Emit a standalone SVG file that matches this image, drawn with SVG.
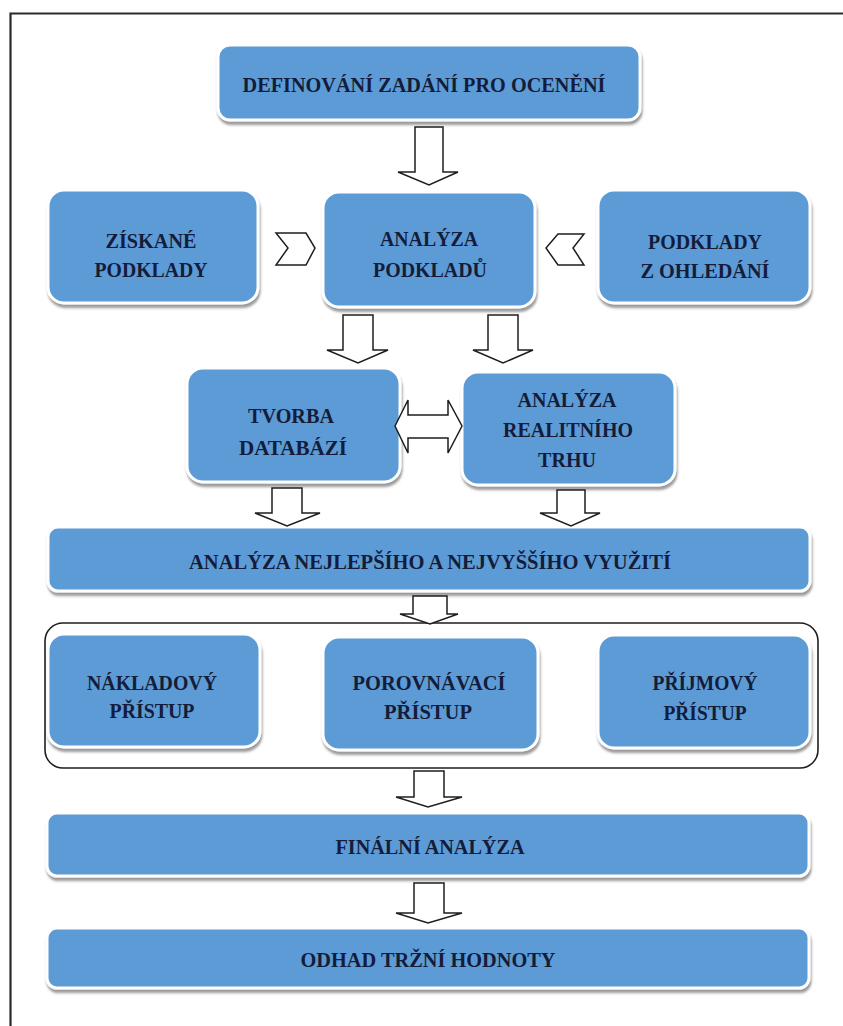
<svg xmlns="http://www.w3.org/2000/svg" width="843" height="1026" viewBox="0 0 843 1026">
<style>
.bg{fill:#ffffff}
.frame{stroke:#2a2a2a;stroke-width:2.2;fill:none}
.box{fill:#5b9bd5;stroke:#ffffff;stroke-width:3;filter:url(#sh)}
.cont{fill:none;stroke:#1e1e1e;stroke-width:1.6}
.arr{fill:#ffffff;stroke:#1e1e1e;stroke-width:1.5;stroke-linejoin:miter}
.t{font-family:"Liberation Serif","Times New Roman",serif;font-weight:bold;font-size:20px;fill:#141c3a;text-anchor:middle}
</style>
<defs>
<filter id="sh" x="-5%" y="-10%" width="112%" height="130%">
<feDropShadow dx="1" dy="3.5" stdDeviation="1.3" flood-color="#4a4a4a" flood-opacity="0.55"/>
</filter>
</defs>
<rect class="bg" x="0" y="0" width="843" height="1026"/>
<path class="frame" d="M10.5 1026 V13.5 H843"/>

<g id="n_definovani">
<rect class="box" x="218" y="45" width="422" height="75" rx="12"/>
<text class="t" x="424" y="92" textLength="363" lengthAdjust="spacingAndGlyphs">DEFINOVÁNÍ ZADÁNÍ PRO OCENĚNÍ</text>
</g>
<g id="n_ziskane">
<rect class="box" x="48" y="190" width="210" height="113" rx="16"/>
<text class="t" x="151" y="248" textLength="91" lengthAdjust="spacingAndGlyphs">ZÍSKANÉ</text>
<text class="t" x="151" y="277" textLength="113" lengthAdjust="spacingAndGlyphs">PODKLADY</text>
</g>
<g id="n_analyza_podkladu">
<rect class="box" x="323" y="192" width="212" height="115" rx="16"/>
<text class="t" x="429" y="246" textLength="98" lengthAdjust="spacingAndGlyphs">ANALÝZA</text>
<text class="t" x="430" y="277" textLength="114" lengthAdjust="spacingAndGlyphs">PODKLADŮ</text>
</g>
<g id="n_ohledani">
<rect class="box" x="598" y="190" width="212" height="113" rx="16"/>
<text class="t" x="705" y="249" textLength="114" lengthAdjust="spacingAndGlyphs">PODKLADY</text>
<text class="t" x="705" y="278" textLength="129" lengthAdjust="spacingAndGlyphs">Z OHLEDÁNÍ</text>
</g>
<g id="n_tvorba">
<rect class="box" x="187" y="368" width="213" height="114" rx="16"/>
<text class="t" x="291" y="423" textLength="86" lengthAdjust="spacingAndGlyphs">TVORBA</text>
<text class="t" x="293" y="455" textLength="108" lengthAdjust="spacingAndGlyphs">DATABÁZÍ</text>
</g>
<g id="n_trh">
<rect class="box" x="462" y="372" width="213" height="113" rx="16"/>
<text class="t" x="567" y="407" textLength="99" lengthAdjust="spacingAndGlyphs">ANALÝZA</text>
<text class="t" x="568" y="437" textLength="130" lengthAdjust="spacingAndGlyphs">REALITNÍHO</text>
<text class="t" x="567" y="467">TRHU</text>
</g>
<g id="n_hbu">
<rect class="box" x="48" y="527" width="762" height="64" rx="10"/>
<text class="t" x="430" y="569" textLength="482" lengthAdjust="spacingAndGlyphs">ANALÝZA NEJLEPŠÍHO A NEJVYŠŠÍHO VYUŽITÍ</text>
</g>
<g id="n_pristupy">
<rect class="cont" x="45" y="623" width="773" height="145" rx="18"/>
</g>
<g id="n_nakladovy">
<rect class="box" x="48" y="634" width="212" height="113" rx="16"/>
<text class="t" x="152" y="690" textLength="130" lengthAdjust="spacingAndGlyphs">NÁKLADOVÝ</text>
<text class="t" x="152" y="718" textLength="85" lengthAdjust="spacingAndGlyphs">PŘÍSTUP</text>
</g>
<g id="n_porovnavaci">
<rect class="box" x="323" y="637" width="215" height="113" rx="16"/>
<text class="t" x="429" y="690" textLength="153" lengthAdjust="spacingAndGlyphs">POROVNÁVACÍ</text>
<text class="t" x="428" y="719" textLength="88" lengthAdjust="spacingAndGlyphs">PŘÍSTUP</text>
</g>
<g id="n_prijmovy">
<rect class="box" x="598" y="635" width="212" height="113" rx="16"/>
<text class="t" x="705" y="690" textLength="105" lengthAdjust="spacingAndGlyphs">PŘÍJMOVÝ</text>
<text class="t" x="705" y="720" textLength="83" lengthAdjust="spacingAndGlyphs">PŘÍSTUP</text>
</g>
<g id="n_finalni">
<rect class="box" x="47" y="813" width="762" height="63" rx="10"/>
<text class="t" x="430" y="854" textLength="189" lengthAdjust="spacingAndGlyphs">FINÁLNÍ ANALÝZA</text>
</g>
<g id="n_odhad">
<rect class="box" x="47" y="928" width="762" height="60" rx="10"/>
<text class="t" x="428" y="967" textLength="255" lengthAdjust="spacingAndGlyphs">ODHAD TRŽNÍ HODNOTY</text>
</g>

<g id="connectors">
<polygon class="arr" points="415,127 443,127 443,172 458,172 429,185 398,172 415,172"/>
<polygon class="arr" points="276,233 306,233 315,248 306,265 276,265 288,248"/>
<polygon class="arr" points="584,234 558,234 546,248 558,265 584,265 573,248"/>
<polygon class="arr" points="343,315 373,315 373,350 388,350 358,363 327,350 343,350"/>
<polygon class="arr" points="488,315 518,315 518,350 533,350 503,363 473,350 488,350"/>
<polygon class="arr" points="395,426 408,400 408,415 448,415 448,400 462,426 448,453 448,438 408,438 408,453"/>
<polygon class="arr" points="272,488 302,488 302,513 320,513 287,526 255,513 272,513"/>
<polygon class="arr" points="557,490 585,490 585,513 600,513 571,526 540,513 557,513"/>
<polygon class="arr" points="413,596 447,596 447,614 458,614 430,624 400,614 413,614"/>
<polygon class="arr" points="414,771 444,771 444,797 462,797 428,807 396,797 414,797"/>
<polygon class="arr" points="414,883 444,883 444,913 462,913 428,923 396,913 414,913"/>
</g>
</svg>
